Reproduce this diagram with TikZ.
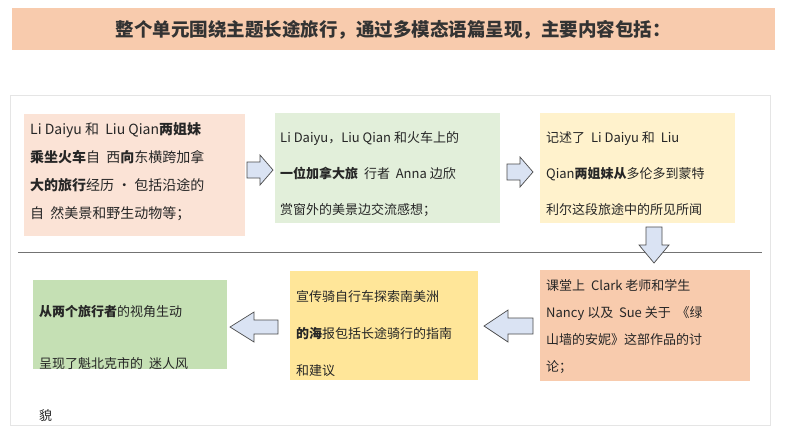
\documentclass[tikz,border=0pt]{standalone}
\usepackage{fontspec}
\setmainfont{Noto Sans CJK SC}
\definecolor{c1}{HTML}{FBE3D6}
\definecolor{c2}{HTML}{E2EFDA}
\definecolor{c3}{HTML}{FFF2CC}
\definecolor{c4}{HTML}{F8CBAD}
\definecolor{c5}{HTML}{FFE699}
\definecolor{c6}{HTML}{C5E0B4}
\definecolor{ct}{HTML}{F8CBAD}
\definecolor{ca}{HTML}{DAE3F3}
\begin{document}
\begin{tikzpicture}[x=1pt,y=-1pt,
  txt/.style={anchor=north west,align=left,inner sep=0pt,text=black!85},
  barrow/.style={fill=ca,draw=black!70,line width=0.7pt}]
\useasboundingbox (0,0) rectangle (794,447);
\fill[white] (0,0) rectangle (794,447);
\fill[ct] (12,8) rectangle (775,50);
\node[font=\fontsize{18.5}{20}\selectfont\bfseries,text=black!80] (title) at (393,30) {整个单元围绕主题长途旅行，通过多模态语篇呈现，主要内容包括：};
\draw[black!10] (10,95) rectangle (770,425);
\draw[black!55] (18,252) -- (762,252);
% boxes
\fill[c1] (24,114) rectangle (245,236);
\fill[c2] (275,113) rectangle (500,223);
\fill[c3] (540,113) rectangle (735,223);
\fill[c4] (540,270) rectangle (750,381);
\fill[c5] (290,271) rectangle (478,380);
\fill[c6] (33,280) rectangle (227,369);
\node[txt,font=\fontsize{14}{28}\selectfont] (t1) at (30,122) {Li Daiyu 和 \ Liu Qian\textbf{两姐妹}\\\textbf{乘坐火车}自 \ 西\textbf{向}东横跨加拿\\\textbf{大的旅行}经历 · 包括沿途的\\自 \ 然美景和野生动物等；};
\node[txt,font=\fontsize{13}{36}\selectfont] (t2) at (280,131) {Li Daiyu，Liu Qian 和火车上的\\\textbf{一位加拿大旅} \ 行者 \ Anna 边欣\\赏窗外的美景边交流感想；};
\node[txt,font=\fontsize{13}{36}\selectfont] (t3) at (546,131) {记述了 \ Li Daiyu 和 \ Liu\\Qian\textbf{两姐妹从}多伦多到蒙特\\利尔这段旅途中的所见所闻};
\node[txt,font=\fontsize{13}{27}\selectfont] (t4) at (546,279) {课堂上 \ Clark 老师和学生\\Nancy 以及 \ Sue 关于 \ 《绿\\山墙的安妮》这部作品的讨\\论；};
\node[txt,font=\fontsize{13}{37}\selectfont] (t5) at (296,290) {宣传骑自行车探索南美洲\\\textbf{的海}报包括长途骑行的指南\\和建议};
\node[txt,font=\fontsize{13}{52}\selectfont] (t6) at (39,305) {\textbf{从两个旅行者}的视角生动\\呈现了魁北克市的 \ 迷人风\\貌};
% block arrows
\draw[barrow] (247,162) -- (260,162) -- (260,155) -- (273,170) -- (260,185) -- (260,178) -- (247,178) -- cycle;
\draw[barrow] (507,164) -- (520,164) -- (520,157) -- (533,172) -- (520,187) -- (520,180) -- (507,180) -- cycle;
\draw[barrow] (646,227) -- (662,227) -- (662,245) -- (669,245) -- (654,263) -- (639,245) -- (646,245) -- cycle;
\draw[barrow] (533,318) -- (508,318) -- (508,310) -- (484,326) -- (508,342) -- (508,334) -- (533,334) -- cycle;
\draw[barrow] (278,320) -- (254,320) -- (254,312) -- (230,327) -- (254,342) -- (254,334) -- (278,334) -- cycle;
\end{tikzpicture}
\end{document}
